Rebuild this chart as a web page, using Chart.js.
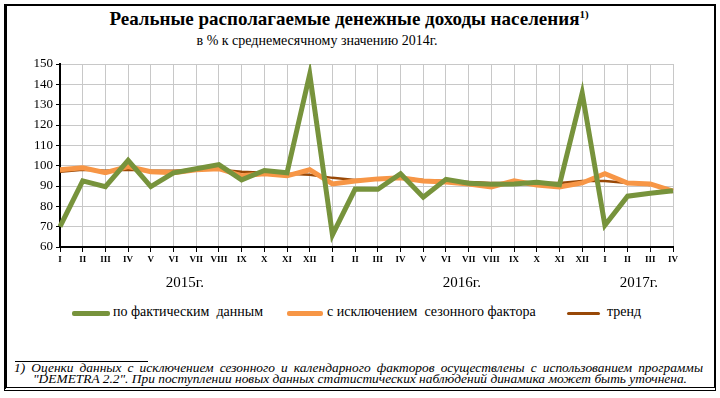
<!DOCTYPE html>
<html>
<head>
<meta charset="utf-8">
<script src="https://cdn.jsdelivr.net/npm/chart.js@4"></script>
<style>
  body { margin: 0; width: 720px; height: 398px; background: #fff; position: relative; overflow: hidden; font-family: "Liberation Serif", serif; color: #000; }
  #frame { position: absolute; left: 4px; top: 4px; width: 707px; height: 381px; border: 2px solid #000; border-left-width: 3px; border-bottom: 4px double #000; }
  .t { position: absolute; white-space: nowrap; }
  #title { left: 0; width: 698px; top: 8px; text-align: center; font-size: 19px; font-weight: bold; }
  #title sup { font-size: 11px; vertical-align: 7px; }
  #subtitle { left: 0; width: 634px; top: 33px; text-align: center; font-size: 14px; }
  #chartBox { position: absolute; left: 0; top: 50px; width: 720px; height: 250px; }
  .lg { position: absolute; top: 304px; font-size: 14px; }
  .sw { position: absolute; top: 311px; height: 5px; border-radius: 2px; }
  #fnline { position: absolute; left: 15px; top: 361px; width: 133px; height: 1px; background: #000; }
  .fn { position: absolute; font-size: 13.4px; font-style: italic; line-height: 14px; }
</style>
</head>
<body>
<div id="frame"></div>
<div class="t" id="title">Реальные располагаемые денежные доходы населения<sup>1)</sup></div>
<div class="t" id="subtitle">в % к среднемесячному значению 2014г.</div>
<div id="chartBox"><canvas id="c" width="720" height="250"></canvas></div>

<div class="sw" style="left:72px;width:38px;background:#77933C"></div>
<div class="t lg" style="left:113px">по фактическим&nbsp; данным</div>
<div class="sw" style="left:287px;width:36px;background:#F79646"></div>
<div class="t lg" style="left:327px">с исключением&nbsp; сезонного фактора</div>
<div class="sw" style="left:567px;width:33px;top:312px;height:3px;background:#984807"></div>
<div class="t lg" style="left:607px">тренд</div>

<div id="fnline"></div>
<div class="t fn" style="left:14px;top:361px;width:689px;text-align:justify;text-align-last:justify;">1) Оценки данных с исключением сезонного и календарного факторов осуществлены с использованием программы</div>
<div class="t fn" style="left:33px;top:372px">"DEMETRA 2.2". При поступлении новых данных статистических наблюдений динамика может быть уточнена.</div>

<script>
const months = ['I','II','III','IV','V','VI','VII','VIII','IX','X','XI','XII',
                'I','II','III','IV','V','VI','VII','VIII','IX','X','XI','XII',
                'I','II','III','IV'];
const years = ['2015г.', '2016г.', '2017г.'];
const yearPos = [5.5, 17.7, 25.5];

const actual = [70, 92.5, 89.7, 102.6, 89.7, 96.5, 98.5, 100.5, 93, 97.6, 96.5, 145,
                66, 88.5, 88.4, 96, 84.5, 93.3, 91.4, 90.8, 91, 91.8, 90.6, 135.8,
                70.7, 85, 86.4, 87.7];
const seasonal = [98, 99, 96.5, 99.5, 97, 96.5, 98, 98.5, 95, 96, 95, 98,
                  91, 92.5, 93.5, 94, 92.5, 92, 91, 89.5, 92.5, 90.5, 89.5, 91.5,
                  96, 91.5, 91, 87.5];
const trend = [97, 98, 97.5, 98, 97.5, 97.5, 98, 98, 97, 96.5, 96, 95.5,
               94, 93, 93.5, 94, 93, 92.5, 92, 91.5, 91.5, 91.5, 91.5, 92.5,
               92.5, 91.5, 90.5, null];

const yearLabels = {
    id: 'yearLabels',
    afterDraw(chart) {
        const ctx = chart.ctx;
        const xs = chart.scales.x;
        ctx.save();
        ctx.font = '15px "Liberation Serif"';
        ctx.fillStyle = '#000';
        ctx.textAlign = 'center';
        ctx.textBaseline = 'middle';
        years.forEach((y, i) => {
            const px = xs.left + (xs.right - xs.left) * yearPos[i] / (months.length - 1);
            ctx.fillText(y, px, 233);
        });
        ctx.restore();
    }
};

new Chart(document.getElementById('c'), {
    type: 'line',
    data: {
        labels: months,
        datasets: [
            { label: 'по фактическим данным', data: actual, borderColor: '#77933C', borderWidth: 5, pointRadius: 0, tension: 0 },
            { label: 'с исключением сезонного фактора', data: seasonal, borderColor: '#F79646', borderWidth: 5, pointRadius: 0, tension: 0 },
            { label: 'тренд', data: trend, borderColor: '#984807', borderWidth: 2.5, pointRadius: 0, tension: 0 }
        ]
    },
    options: {
        responsive: false,
        animation: false,
        events: [],
        layout: { padding: { top: 14, right: 47, left: 0, bottom: 0 } },
        plugins: { legend: { display: false }, tooltip: { enabled: false } },
        scales: {
            x: {
                offset: false,
                afterFit(s) { s.height = 53; },
                grid: { color: '#c8c8c8', lineWidth: 1, tickLength: 5, tickColor: '#000' },
                border: { color: '#000', width: 2 },
                ticks: { color: '#000', font: { family: 'Liberation Serif', size: 9, weight: 'bold' }, maxRotation: 0, autoSkip: false, padding: 2 }
            },
            y: {
                min: 60, max: 150,
                afterFit(s) { s.width = 60; },
                grid: { color: '#c8c8c8', lineWidth: 1, tickLength: 4, tickColor: '#000' },
                border: { color: '#000', width: 2 },
                ticks: { stepSize: 10, color: '#000', font: { family: 'Liberation Serif', size: 13 }, padding: 3 }
            }
        }
    },
    plugins: [yearLabels]
});
</script>
</body>
</html>
